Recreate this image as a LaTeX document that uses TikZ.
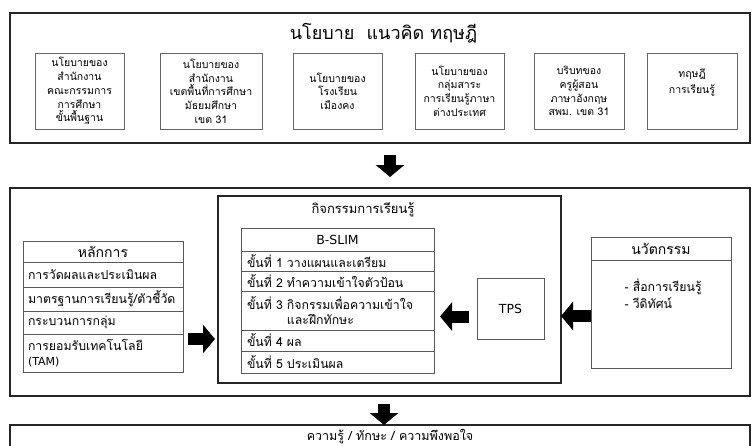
\documentclass[tikz,border=0pt]{standalone}
\usepackage{fontspec}
\setmainfont[Script=Thai]{Loma}
\newfontfamily\latinfont{DejaVu Sans}
\usetikzlibrary{positioning,arrows.meta}

\tikzstyle{frame} = [draw=black!85, line width=1.6pt, minimum width=740pt, outer sep=0pt]
\tikzstyle{policy} = [draw=black!60, line width=0.8pt, minimum height=76pt, text centered, align=center, font=\fontsize{10.5}{13.7}\selectfont]
\tikzstyle{row} = [draw=black!65, line width=0.8pt, outer sep=0pt, inner xsep=5pt, inner ysep=0pt, align=left, font=\fontsize{12.3}{14.5}\selectfont]
\tikzstyle{head} = [row, align=center]
\tikzstyle{blockarrow} = [line width=12pt, -{Triangle[length=12pt, width=28pt]}]

\begin{document}
\begin{tikzpicture}[x=1pt, y=-1pt, node distance=0pt]
\useasboundingbox (0,0) rectangle (754,445);

% Policy layer
\node (top) [frame, minimum height=130pt] at (380,78) {};
\node [font=\fontsize{18}{20}\selectfont] at (383.5,33) {นโยบาย\ \ แนวคิด ทฤษฎี};
\node (pol1) [policy, minimum width=89pt] at (79.5,91) {นโยบายของ\\สำนักงาน\\คณะกรรมการ\\การศึกษา\\ขั้นพื้นฐาน};
\node (pol2) [policy, minimum width=102pt] at (211,91) {นโยบายของ\\สำนักงาน\\เขตพื้นที่การศึกษา\\มัธยมศึกษา\\เขต 31};
\node (pol3) [policy, minimum width=89pt] at (337.5,91) {นโยบายของ\\โรงเรียน\\เมืองคง};
\node (pol4) [policy, minimum width=89pt] at (459.5,91) {นโยบายของ\\กลุ่มสาระ\\การเรียนรู้ภาษา\\ต่างประเทศ};
\node (pol5) [policy, minimum width=90pt] at (579,91) {บริบทของ\\ครูผู้สอน\\ภาษาอังกฤษ\\สพม. เขต 31};
\node (pol6) [policy, minimum width=90pt] at (692,91) {};
\node [align=center, font=\fontsize{10.5}{16}\selectfont, anchor=north] at ([yshift=-12pt]pol6.north) {ทฤษฎี\\การเรียนรู้};

% Learning layer
\node (mid) [frame, minimum height=208pt] at (380,292) {};
\node (act) [draw=black!85, line width=1.2pt, minimum width=343pt, minimum height=187pt] at (389.5,289.5) {};
\node [font=\fontsize{13}{15}\selectfont] at ([xshift=-26.5pt,yshift=-14pt]act.north) {กิจกรรมการเรียนรู้};

% Principles
\node (prin0) [head, text width=150pt, minimum height=21pt, font=\fontsize{14}{16}\selectfont] at (103,251.5) {หลักการ};
\node (prin1) [row, text width=150pt, minimum height=25pt, below=of prin0] {การวัดผลและประเมินผล};
\node (prin2) [row, text width=150pt, minimum height=24pt, below=of prin1] {มาตรฐานการเรียนรู้/ตัวชี้วัด};
\node (prin3) [row, text width=150pt, minimum height=23pt, below=of prin2] {กระบวนการกลุ่ม};
\node (prin4) [row, text width=150pt, minimum height=38pt, below=of prin3] {การยอมรับเทคโนโลยี\\{\latinfont\fontsize{11}{14.5}\selectfont (TAM)}};

% B-SLIM steps
\node (slim0) [head, text width=181pt, inner xsep=6pt, minimum height=23pt] at (337.5,239.5) {\latinfont\fontsize{12.5}{14}\selectfont B-SLIM};
\node (slim1) [row, text width=181pt, inner xsep=6pt, minimum height=20pt, below=of slim0] {ขั้นที่ 1 วางแผนและเตรียม};
\node (slim2) [row, text width=181pt, inner xsep=6pt, minimum height=20pt, below=of slim1] {ขั้นที่ 2 ทำความเข้าใจตัวป้อน};
\node (slim3) [row, text width=181pt, inner xsep=6pt, minimum height=39pt, below=of slim2] {ขั้นที่ 3 กิจกรรมเพื่อความเข้าใจ\\\phantom{ขั้นที่ 3 }และฝึกทักษะ};
\node (slim4) [row, text width=181pt, inner xsep=6pt, minimum height=21pt, below=of slim3] {ขั้นที่ 4 ผล};
\node (slim5) [row, text width=181pt, inner xsep=6pt, minimum height=22pt, below=of slim4] {ขั้นที่ 5 ประเมินผล};

\node (tps) [row, align=center, minimum width=67pt, minimum height=61pt, font=\latinfont\fontsize{12.5}{14}\selectfont] at (510.5,308.5) {TPS};

% Innovation
\node (inno0) [head, text width=130pt, minimum height=23pt, font=\fontsize{14}{16}\selectfont] at (661,248.5) {นวัตกรรม};
\node (inno1) [row, text width=130pt, minimum height=108pt, below=of inno0] {};
\node [anchor=north west, align=left, font=\fontsize{12.3}{17}\selectfont] at ([xshift=30pt,yshift=-15pt]inno1.north west) {- สื่อการเรียนรู้\\- วีดิทัศน์};

% Outcome layer
\node (outcome) [frame, minimum height=40pt, anchor=north] at (380,425) {};
\node [font=\fontsize{12.5}{14}\selectfont] at (390,437) {ความรู้ / ทักษะ / ความพึงพอใจ};

% Arrows
\draw [blockarrow] ([xshift=10pt,yshift=-12pt]top.south) -- ([xshift=10pt,yshift=11pt]mid.north);
\draw [blockarrow] ([xshift=5pt,yshift=-5pt]prin3.south east) -- ++(27,0);
\draw [blockarrow] ([xshift=-8pt,yshift=-8pt]tps.west) -- ++(-29,0);
\draw [blockarrow] ([yshift=-2pt]inno1.west) -- ++(-30,0);
\draw [blockarrow] ([xshift=4pt,yshift=-8pt]mid.south) -- ([xshift=4pt]outcome.north);

\end{tikzpicture}
\end{document}
